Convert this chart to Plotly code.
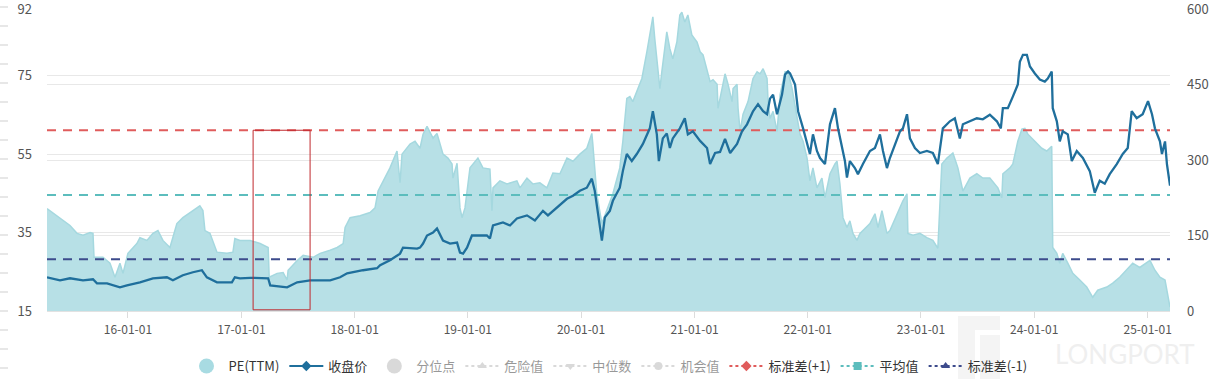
import pandas as pd
import plotly.graph_objects as go

# ---------------- data ----------------
pe_time = [2015.285, 2015.400, 2015.488, 2015.550, 2015.603, 2015.665, 2015.691, 2015.700, 2015.779, 2015.841,
           2015.885, 2015.929, 2015.956, 2016.000, 2016.079, 2016.106, 2016.168, 2016.221, 2016.265, 2016.309,
           2016.371, 2016.432, 2016.485, 2016.574, 2016.635, 2016.662, 2016.680, 2016.724, 2016.786, 2016.874,
           2016.927, 2016.944, 2016.989, 2017.077, 2017.165, 2017.236, 2017.245, 2017.315, 2017.368, 2017.403,
           2017.412, 2017.492, 2017.545, 2017.633, 2017.695, 2017.783, 2017.845, 2017.898, 2017.915, 2017.959,
           2018.048, 2018.136, 2018.180, 2018.207, 2018.251, 2018.312, 2018.374, 2018.401, 2018.418, 2018.489,
           2018.533, 2018.577, 2018.604, 2018.639, 2018.692, 2018.727, 2018.754, 2018.780, 2018.824, 2018.860,
           2018.868, 2018.904, 2018.930, 2018.948, 2018.974, 2019.019, 2019.089, 2019.133, 2019.195, 2019.213,
           2019.222, 2019.283, 2019.345, 2019.433, 2019.460, 2019.522, 2019.575, 2019.636, 2019.698, 2019.751,
           2019.813, 2019.875, 2019.928, 2019.989, 2020.051, 2020.095, 2020.104, 2020.139, 2020.184, 2020.228,
           2020.281, 2020.342, 2020.369, 2020.404, 2020.431, 2020.457, 2020.492, 2020.537, 2020.581, 2020.607,
           2020.634, 2020.651, 2020.678, 2020.696, 2020.713, 2020.740, 2020.757, 2020.784, 2020.810, 2020.846,
           2020.872, 2020.890, 2020.916, 2020.943, 2020.978, 2021.022, 2021.049, 2021.075, 2021.110, 2021.137,
           2021.163, 2021.199, 2021.207, 2021.243, 2021.269, 2021.296, 2021.331, 2021.340, 2021.375, 2021.384,
           2021.402, 2021.428, 2021.472, 2021.516, 2021.552, 2021.578, 2021.605, 2021.640, 2021.649, 2021.666,
           2021.693, 2021.728, 2021.755, 2021.799, 2021.825, 2021.861, 2021.905, 2021.931, 2021.958, 2021.993,
           2022.019, 2022.046, 2022.081, 2022.125, 2022.152, 2022.196, 2022.240, 2022.258, 2022.284, 2022.311,
           2022.346, 2022.372, 2022.399, 2022.434, 2022.461, 2022.487, 2022.549, 2022.593, 2022.620, 2022.655,
           2022.699, 2022.725, 2022.787, 2022.814, 2022.840, 2022.876, 2022.884, 2022.929, 2022.990, 2023.052,
           2023.105, 2023.149, 2023.184, 2023.229, 2023.282, 2023.326, 2023.370, 2023.432, 2023.493, 2023.546,
           2023.608, 2023.679, 2023.714, 2023.723, 2023.785, 2023.811, 2023.855, 2023.891, 2023.917, 2023.944,
           2023.979, 2024.023, 2024.067, 2024.111, 2024.155, 2024.164, 2024.200, 2024.226, 2024.252, 2024.297,
           2024.341, 2024.403, 2024.464, 2024.517, 2024.561, 2024.641, 2024.694, 2024.755, 2024.817, 2024.870,
           2024.932, 2024.994, 2025.020, 2025.064, 2025.108, 2025.153, 2025.170, 2025.197]
pe_values = [41.1, 38.6, 36.8, 34.8, 34.3, 35.0, 34.8, 28.7, 28.7, 27.2,
             23.6, 27.2, 24.6, 29.7, 32.2, 33.7, 33.0, 34.8, 35.5, 33.0,
             31.2, 37.3, 38.8, 40.6, 41.8, 40.6, 35.5, 34.8, 30.0, 29.7,
             30.0, 33.5, 33.0, 33.0, 32.2, 31.2, 23.6, 24.6, 24.8, 22.9,
             25.4, 27.9, 29.2, 28.7, 29.7, 30.5, 31.2, 32.2, 36.3, 38.8,
             39.3, 40.1, 41.3, 45.6, 48.2, 51.5, 55.8, 47.7, 55.0, 57.6,
             58.3, 56.5, 60.1, 62.1, 59.1, 60.3, 57.6, 55.0, 54.0, 52.5,
             48.9, 52.7, 41.3, 38.8, 41.3, 51.5, 54.0, 51.5, 51.2, 40.6,
             46.4, 48.2, 47.4, 48.2, 46.4, 48.9, 47.4, 47.7, 46.4, 50.2,
             50.0, 54.0, 53.2, 55.0, 56.5, 60.3, 57.6, 44.9, 37.3, 40.6,
             44.9, 51.5, 58.3, 69.2, 69.7, 68.4, 71.0, 74.3, 81.1, 85.4,
             90.0, 84.4, 76.8, 71.7, 76.0, 82.9, 86.2, 81.9, 79.3, 83.6,
             90.5, 91.2, 88.7, 90.5, 85.4, 83.6, 81.1, 80.3, 76.8, 73.5,
             74.0, 72.8, 66.7, 71.7, 75.5, 72.8, 68.4, 71.7, 72.8, 66.7,
             60.8, 65.2, 68.4, 74.3, 76.0, 75.5, 76.8, 74.3, 68.4, 64.1,
             65.9, 60.8, 70.2, 76.0, 76.0, 71.7, 65.0, 60.1, 58.3, 54.0,
             48.2, 51.5, 46.4, 48.9, 43.9, 50.0, 52.5, 53.2, 47.4, 38.8,
             36.3, 38.0, 34.8, 33.0, 34.8, 35.5, 37.3, 39.8, 36.3, 40.6,
             34.8, 35.5, 39.8, 41.3, 43.1, 44.9, 34.8, 34.3, 34.8, 33.7,
             33.0, 31.0, 52.5, 54.0, 55.3, 51.5, 45.6, 48.9, 50.0, 48.9,
             48.9, 46.4, 43.9, 50.0, 51.5, 52.5, 58.3, 61.4, 61.6, 60.1,
             59.1, 57.6, 56.5, 55.8, 57.0, 31.2, 29.7, 27.2, 29.7, 27.2,
             24.6, 22.9, 21.1, 18.5, 20.3, 21.1, 22.1, 23.6, 25.4, 27.2,
             26.1, 27.2, 27.9, 25.4, 23.6, 22.9, 20.3, 16.0]

price_time = [2015.285, 2015.400, 2015.488, 2015.603, 2015.691, 2015.726, 2015.815, 2015.929, 2015.991, 2016.106,
              2016.221, 2016.344, 2016.397, 2016.485, 2016.574, 2016.653, 2016.697, 2016.786, 2016.918, 2016.944,
              2016.989, 2017.077, 2017.236, 2017.254, 2017.403, 2017.492, 2017.607, 2017.783, 2017.871, 2017.933,
              2018.074, 2018.198, 2018.225, 2018.312, 2018.401, 2018.427, 2018.551, 2018.577, 2018.604, 2018.639,
              2018.692, 2018.727, 2018.780, 2018.842, 2018.904, 2018.930, 2018.957, 2018.992, 2019.036, 2019.089,
              2019.168, 2019.195, 2019.222, 2019.310, 2019.372, 2019.433, 2019.522, 2019.592, 2019.663, 2019.707,
              2019.786, 2019.875, 2019.928, 2019.989, 2020.051, 2020.095, 2020.121, 2020.148, 2020.184, 2020.210,
              2020.254, 2020.281, 2020.316, 2020.342, 2020.369, 2020.404, 2020.448, 2020.492, 2020.546, 2020.607,
              2020.634, 2020.669, 2020.687, 2020.722, 2020.757, 2020.784, 2020.810, 2020.872, 2020.916, 2020.943,
              2020.987, 2021.049, 2021.110, 2021.137, 2021.181, 2021.225, 2021.269, 2021.314, 2021.375, 2021.419,
              2021.463, 2021.516, 2021.560, 2021.605, 2021.640, 2021.666, 2021.693, 2021.728, 2021.772, 2021.799,
              2021.825, 2021.843, 2021.887, 2021.914, 2021.958, 2021.993, 2022.019, 2022.046, 2022.081, 2022.108,
              2022.134, 2022.152, 2022.196, 2022.240, 2022.267, 2022.302, 2022.328, 2022.346, 2022.372, 2022.416,
              2022.443, 2022.487, 2022.549, 2022.593, 2022.637, 2022.664, 2022.699, 2022.725, 2022.770, 2022.814,
              2022.840, 2022.876, 2022.902, 2022.946, 2022.990, 2023.052, 2023.105, 2023.149, 2023.193, 2023.255,
              2023.299, 2023.343, 2023.370, 2023.432, 2023.493, 2023.546, 2023.608, 2023.670, 2023.705, 2023.723,
              2023.767, 2023.811, 2023.855, 2023.873, 2023.900, 2023.935, 2023.962, 2024.006, 2024.050, 2024.094,
              2024.120, 2024.155, 2024.164, 2024.200, 2024.226, 2024.252, 2024.297, 2024.332, 2024.376, 2024.430,
              2024.491, 2024.535, 2024.579, 2024.623, 2024.667, 2024.729, 2024.782, 2024.826, 2024.861, 2024.905,
              2024.958, 2025.003, 2025.038, 2025.064, 2025.108, 2025.126, 2025.153, 2025.170, 2025.197]
price_values = [67, 61, 65, 61, 63, 55, 55, 47, 51, 57,
                65, 67, 61, 71, 77, 81, 67, 57, 57, 67,
                65, 66, 65, 51, 47, 57, 61, 61, 67, 75,
                81, 85, 91, 101, 114, 126, 124, 126, 134, 150,
                156, 164, 140, 134, 136, 116, 114, 126, 150, 150,
                150, 144, 170, 176, 170, 184, 190, 180, 199, 190,
                205, 223, 229, 239, 245, 263, 239, 199, 140, 186,
                199, 219, 233, 245, 278, 312, 298, 312, 332, 363,
                397, 351, 298, 343, 353, 324, 343, 363, 383, 351,
                357, 338, 324, 292, 314, 316, 342, 314, 332, 357,
                371, 397, 411, 397, 391, 422, 430, 391, 430, 470,
                476, 472, 450, 397, 363, 332, 312, 351, 318, 304,
                298, 292, 371, 403, 363, 324, 298, 265, 298, 284,
                272, 292, 318, 324, 351, 318, 284, 304, 332, 357,
                363, 391, 343, 324, 314, 318, 314, 292, 363, 377,
                383, 343, 371, 377, 383, 381, 390, 377, 363, 403,
                403, 426, 450, 495, 509, 509, 486, 472, 460, 456,
                462, 476, 403, 377, 337, 357, 351, 298, 318, 304,
                278, 235, 259, 253, 272, 292, 312, 324, 397, 383,
                391, 417, 391, 363, 337, 312, 337, 292, 249]

std_plus = 61.1
pe_mean = 44.6
std_minus = 28.2

highlight_start = 2017.103
highlight_end = 2017.606

left_ticks = [15, 35, 55, 75, 92]
right_ticks = [0, 150, 300, 450, 600]
x_tick_years = [2016, 2017, 2018, 2019, 2020, 2021, 2022, 2023, 2024, 2025]

legend_names = ["PE(TTM)", "收盘价", "分位点", "危险值", "中位数", "机会值", "标准差(+1)", "平均值", "标准差(-1)"]


def to_date(t):
    year = int(t)
    return pd.Timestamp(year, 1, 1) + pd.Timedelta(days=(t - year) * 365.25)


pe_dates = [to_date(t) for t in pe_time]
price_dates = [to_date(t) for t in price_time]
x_start, x_end = pe_dates[0], pe_dates[-1]

FONT = "Noto Sans CJK SC, Open Sans, sans-serif"
PE_FILL = "#b7e0e6"
PE_LINE = "#a5d8df"
PRICE = "#1f6f9c"
RED = "#e05c5c"
TEAL = "#5cbdbd"
NAVY = "#3d4b8c"
DIS = "#b5b5b5"

TOP = 9
BOTTOM_PX = 311
plot_h = float(BOTTOM_PX - TOP)

fig = go.Figure()

# PE area
fig.add_trace(go.Scatter(x=pe_dates, y=pe_values, mode="lines", fill="tozeroy",
                         line=dict(color=PE_LINE, width=1.5), fillcolor=PE_FILL,
                         showlegend=False, hoverinfo="skip", yaxis="y"))
# legend stand-in for PE
fig.add_trace(go.Scatter(x=[None], y=[None], mode="markers", name=legend_names[0],
                         marker=dict(symbol="circle", size=15, color="#a8dbe2"), yaxis="y"))
# close price (legend stand-in + actual line on right axis)
fig.add_trace(go.Scatter(x=[None], y=[None], mode="lines+markers", name=legend_names[1],
                         line=dict(color=PRICE, width=2), marker=dict(symbol="diamond", size=8, color=PRICE),
                         yaxis="y2"))
fig.add_trace(go.Scatter(x=price_dates, y=price_values, mode="lines", name=legend_names[1],
                         line=dict(color=PRICE, width=2.3), yaxis="y2", showlegend=False))

# disabled items
fig.add_trace(go.Scatter(x=[None], y=[None], mode="markers", name=legend_names[2], visible="legendonly",
                         marker=dict(symbol="circle", size=15, color=DIS)))
fig.add_trace(go.Scatter(x=[None], y=[None], mode="lines+markers", name=legend_names[3], visible="legendonly",
                         line=dict(color=DIS, width=2, dash="dot"),
                         marker=dict(symbol="triangle-up", size=8, color=DIS)))
fig.add_trace(go.Scatter(x=[None], y=[None], mode="lines+markers", name=legend_names[4], visible="legendonly",
                         line=dict(color=DIS, width=2, dash="dot"),
                         marker=dict(symbol="triangle-down", size=8, color=DIS)))
fig.add_trace(go.Scatter(x=[None], y=[None], mode="lines+markers", name=legend_names[5], visible="legendonly",
                         line=dict(color=DIS, width=2, dash="dot"),
                         marker=dict(symbol="circle", size=8, color=DIS)))

# std / mean lines
for val, color, name, sym in [(std_plus, RED, legend_names[6], "diamond"),
                              (pe_mean, TEAL, legend_names[7], "square"),
                              (std_minus, NAVY, legend_names[8], "triangle-up")]:
    fig.add_trace(go.Scatter(x=[x_start, x_end], y=[val, val], mode="lines", name=name,
                             line=dict(color=color, width=2, dash="9px,7px"), showlegend=False, yaxis="y"))
    fig.add_trace(go.Scatter(x=[None], y=[None], mode="lines+markers", name=name,
                             line=dict(color=color, width=2, dash="dot"),
                             marker=dict(symbol=sym, size=8, color=color), yaxis="y"))

shapes = [dict(type="rect", xref="x", yref="y", x0=to_date(highlight_start), x1=to_date(highlight_end),
               y0=15.3, y1=std_plus, line=dict(color="#c0282d", width=1), fillcolor="rgba(0,0,0,0)", layer="above")]
# faint side tick decorations on the far left
for k in range(20):
    ypx = 7 + 19 * k
    yp = (BOTTOM_PX - ypx) / plot_h
    shapes.append(dict(type="line", xref="paper", yref="paper", x0=-47 / 1123, x1=-39 / 1123, y0=yp, y1=yp,
                       line=dict(color="#cfcfcf", width=1)))
# faint watermark logo blocks
for (a, b, c, d) in [(958, 1000, 316, 330), (958, 975, 330, 379), (980, 1000, 335, 379)]:
    shapes.append(dict(type="rect", xref="paper", yref="paper", x0=(a - 47) / 1123, x1=(b - 47) / 1123,
                       y0=(BOTTOM_PX - d) / plot_h, y1=(BOTTOM_PX - c) / plot_h, line=dict(width=0),
                       fillcolor="rgba(236,236,236,0.6)", layer="below"))

fig.update_layout(
    width=1217, height=379,
    margin=dict(l=47, r=47, t=TOP, b=379 - BOTTOM_PX, autoexpand=False),
    paper_bgcolor="white", plot_bgcolor="white",
    font=dict(family=FONT, size=12, color="#555"),
    showlegend=True,
    legend=dict(orientation="h", x=0.5, xanchor="center", y=(BOTTOM_PX - 366) / plot_h, yanchor="middle",
                font=dict(family=FONT, size=13, color="#333"), itemwidth=34,
                bgcolor="rgba(0,0,0,0)"),
    xaxis=dict(type="date", range=[x_start, x_end], tickvals=[pd.Timestamp(y, 1, 1) for y in x_tick_years],
               tickformat="%y-%m-%d", showgrid=False, ticks="outside", ticklen=6, tickcolor="#dcdcdc",
               showline=True, linecolor="#e2e2e2", zeroline=False, tickfont=dict(size=12, color="#555"),
               ticklabelstandoff=2, automargin=False),
    yaxis=dict(range=[15, 92.02], tickvals=left_ticks, showgrid=True, gridcolor="#e8e8e8", gridwidth=1,
               zeroline=False, showline=False, tickfont=dict(size=13, color="#555"), ticks="",
               ticklabelstandoff=14, automargin=False, ticklabeloverflow="allow"),
    yaxis2=dict(range=[0, 600.15], tickvals=right_ticks, overlaying="y", side="right", showgrid=True,
                gridcolor="#e8e8e8", gridwidth=1, zeroline=False, showline=False,
                tickfont=dict(size=13, color="#555"), ticklabelstandoff=16, automargin=False,
                ticklabeloverflow="allow"),
    shapes=shapes,
    annotations=[dict(text="LONGPORT", xref="paper", yref="paper", x=(1125 - 47) / 1123,
                      y=(BOTTOM_PX - 354) / plot_h, xanchor="center", yanchor="middle", showarrow=False,
                      font=dict(size=26, color="#efefef", family="Lato"))],
)

fig.write_html("out.html", config={"displayModeBar": False},
               post_script="document.body.style.margin='0px';document.body.style.padding='0px';")
